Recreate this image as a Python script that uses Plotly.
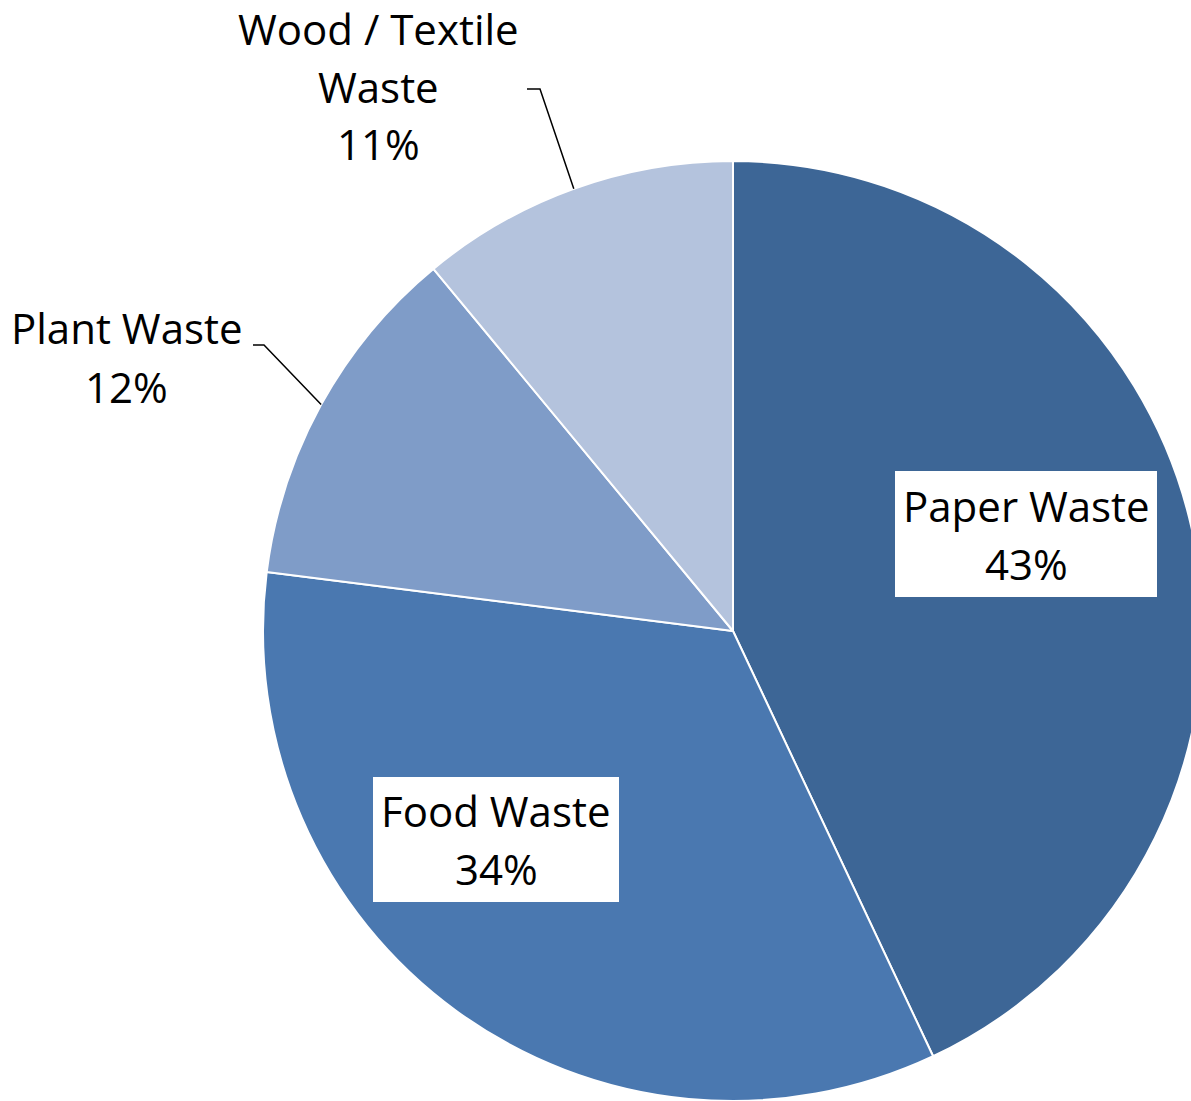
import math
import plotly.graph_objects as go

categories = ["Paper Waste", "Food Waste", "Plant Waste", "Wood / Textile Waste"]
shares = [43, 34, 12, 11]
colors = ["#3D6696", "#4A78B0", "#7F9CC8", "#B4C3DD"]

# figure slightly wider than the window so the pie can run off the right edge, as in the reference
W, H = 1203, 1101
cx, cy, R = 733, 631, 470

def px(x):
    return x / W

def py(y):
    return 1 - y / H

FONT = "Open Sans, Lato, sans-serif"
FS = 42
LINE = 58

fig = go.Figure(go.Pie(
    labels=categories,
    values=shares,
    sort=False,
    direction="clockwise",
    rotation=0,
    textinfo="none",
    hoverinfo="label+percent",
    marker=dict(colors=colors, line=dict(color="white", width=2)),
    domain=dict(x=[px(cx - R), px(cx + R)], y=[py(cy + R), py(cy - R)]),
    showlegend=False,
))

total = sum(shares)
cum = 0
mids = []
for v in shares:
    mids.append((cum + v / 2) / total * 360)
    cum += v

def edge(angle, r=R):
    a = math.radians(angle)
    return cx + r * math.sin(a), cy - r * math.cos(a)

annotations = []
shapes = []

def text_block(lines, x, y_first):
    for i, t in enumerate(lines):
        annotations.append(dict(x=px(x), y=py(y_first + i * LINE), xref="paper", yref="paper",
                                xanchor="center", yanchor="middle",
                                text=t, showarrow=False,
                                font=dict(family=FONT, size=FS, color="black")))

# boxed inside labels
shapes.append(dict(type="rect", xref="paper", yref="paper",
                   x0=px(895), x1=px(1157), y0=py(597), y1=py(471),
                   fillcolor="white", line=dict(width=0)))
text_block(["Paper Waste", f"{shares[0]}%"], 1026, 505)
shapes.append(dict(type="rect", xref="paper", yref="paper",
                   x0=px(373), x1=px(619), y0=py(902), y1=py(777),
                   fillcolor="white", line=dict(width=0)))
text_block(["Food Waste", f"{shares[1]}%"], 496, 810)
# outside labels
text_block(["Plant Waste", f"{shares[2]}%"], 127, 328)
text_block(["Wood / Textile", "Waste", f"{shares[3]}%"], 378, 28)

# leader lines
ex, ey = edge(mids[2])
shapes.append(dict(type="path", xref="paper", yref="paper",
                   path=f"M {px(253)},{py(345)} L {px(264)},{py(345)} L {px(ex)},{py(ey)}",
                   line=dict(color="black", width=1.5)))
ex, ey = edge(mids[3])
shapes.append(dict(type="path", xref="paper", yref="paper",
                   path=f"M {px(527)},{py(89)} L {px(540)},{py(89)} L {px(ex)},{py(ey)}",
                   line=dict(color="black", width=1.5)))

fig.update_layout(
    width=W, height=H,
    margin=dict(l=0, r=0, t=0, b=0),
    paper_bgcolor="white",
    plot_bgcolor="white",
    annotations=annotations,
    shapes=shapes,
)

fig.write_html("out.html",
               config={"displayModeBar": False},
               post_script="document.body.style.margin='0px';document.body.style.overflow='hidden';")
